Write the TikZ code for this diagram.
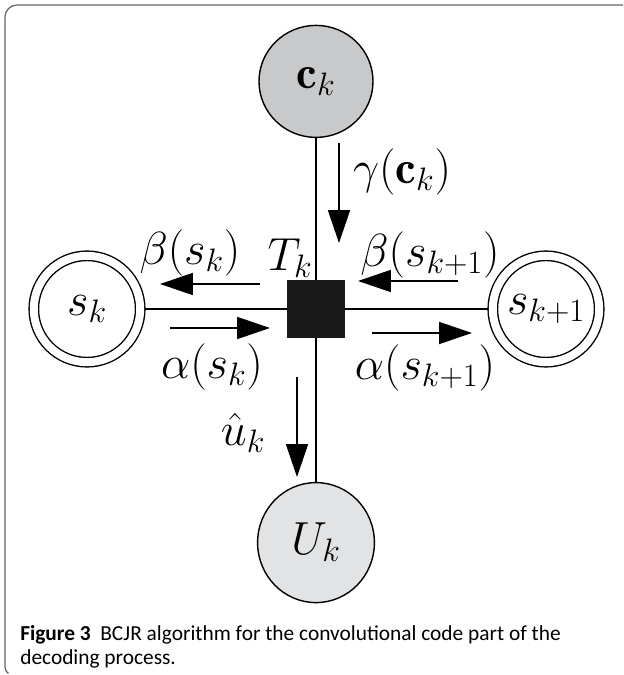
\RequirePackage{fix-cm}
\documentclass[tikz,border=0pt]{standalone}
\usepackage{fontspec}
\newfontfamily\capfont{Carlito}
\usetikzlibrary{arrows.meta,shapes.geometric}
\definecolor{ckgray}{RGB}{200,201,203}
\definecolor{ukgray}{RGB}{226,227,229}
\begin{document}
\begin{tikzpicture}[
  every node/.style={font=\fontsize{33}{38}\selectfont,inner sep=1pt},
  st/.style={circle,draw=black,line width=1pt,double,double distance=0.2cm,minimum size=2.66cm,inner sep=0pt,outer sep=0.13cm},
  obs/.style={ellipse,draw=black,line width=1pt,inner sep=0pt},
  fac/.style={rectangle,fill=black!90,draw=black!90,minimum size=1.42cm,inner sep=0pt},
  ln/.style={line width=1pt},
  ar/.style={-{Triangle[length=0.82cm,width=0.55cm]},line width=1pt},
  fr/.style={draw=black!60,line width=0.9pt}]
\useasboundingbox (0,0) rectangle (15.575,16.875);
\draw[fr] (15.575,16.75) -- (0.425,16.75) arc[start angle=90,end angle=180,radius=0.3]
  -- (0.125,0.2) arc[start angle=180,end angle=235,radius=0.2];
\node[fac] (T) at (7.9,9.15) {};
\node[st] (sk) at (2.175,9.15) {$s_k$};
\node[st] (sk1) at (13.65,9.15) {$s_{k+1}$};
\node[obs,fill=ckgray,minimum width=2.85cm,minimum height=2.8cm] (ck) at (7.9,14.84) {$\mathbf{c}_k$};
\node[obs,fill=ukgray,minimum width=2.92cm,minimum height=3cm] (Uk) at (7.9,3.31) {$U_k$};
\draw[ln] (ck) -- (T);
\draw[ln] (T) -- (Uk);
\draw[ln] (sk) -- (T);
\draw[ln] (T) -- (sk1);
% messages
\coordinate (g1) at (8.475,13.3);
\coordinate (g2) at (8.475,10.8);
\coordinate (b1) at (6.5,9.775);
\coordinate (b2) at (4,9.775);
\coordinate (a1) at (4.25,8.675);
\coordinate (a2) at (6.75,8.675);
\coordinate (c1) at (11.45,9.85);
\coordinate (c2) at (8.95,9.85);
\coordinate (d1) at (9.3,8.55);
\coordinate (d2) at (11.8,8.55);
\coordinate (u1) at (7.425,7.45);
\coordinate (u2) at (7.425,4.95);
\draw[ar] (g1) -- (g2);
\draw[ar] (b1) -- (b2);
\draw[ar] (a1) -- (a2);
\draw[ar] (c1) -- (c2);
\draw[ar] (d1) -- (d2);
\draw[ar] (u1) -- (u2);
\node (gam) at (10.05,12.575) {$\gamma(\mathbf{c}_k)$};
\node (tk) at (7.25,10.425) {$T_k$};
\node (bsk) at (4.75,10.55) {$\beta(s_k)$};
\node (bsk1) at (10.75,10.5) {$\beta(s_{k+1})$};
\node (ask) at (5.3,7.7) {$\alpha(s_k)$};
\node (ask1) at (10.625,7.675) {$\alpha(s_{k+1})$};
\node (uh) at (6.075,6.05) {$\hat{u}_k$};
\node[anchor=north west,align=left,inner sep=0pt,font=\capfont\fontsize{15.2}{17}\selectfont] (cap) at (0.5,1.235)
  {\textbf{Figure 3}\ \ BCJR algorithm for the convolutional code part of the\\decoding process.};
\end{tikzpicture}
\end{document}
